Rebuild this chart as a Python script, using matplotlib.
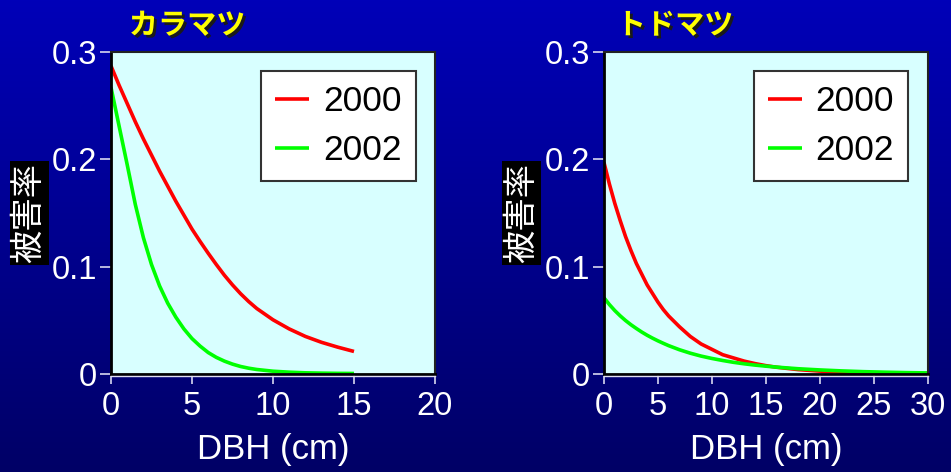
import numpy as np
import matplotlib
matplotlib.use('Agg')
import matplotlib.pyplot as plt
import matplotlib.patheffects as pe
import matplotlib.transforms as mtransforms
from matplotlib.lines import Line2D

plt.rcParams['font.family'] = ['Liberation Sans', 'Noto Sans CJK JP', 'DejaVu Sans']

# ---------------- data ----------------
species = ['カラマツ', 'トドマツ']
years = ['2000', '2002']
ylabel_text = '被害率'
xlabel_text = 'DBH (cm)'

kara_dbh = [0, 0.5, 1, 1.5, 2, 2.5, 3, 3.5, 4, 4.5, 5, 5.5, 6, 6.5, 7, 7.5, 8,
            8.5, 9, 10, 11, 12, 13, 14, 15]
kara_2000 = [0.287, 0.269, 0.252, 0.235, 0.219, 0.204, 0.189, 0.175, 0.161,
             0.148, 0.135, 0.1235, 0.1125, 0.102, 0.092, 0.083, 0.0748,
             0.0675, 0.061, 0.0505, 0.042, 0.035, 0.0295, 0.025, 0.021]
kara_2002 = [0.267, 0.231, 0.195, 0.158, 0.127, 0.102, 0.082, 0.066, 0.053,
             0.042, 0.033, 0.026, 0.020, 0.0155, 0.012, 0.0092, 0.0070,
             0.0054, 0.0042, 0.0026, 0.0017, 0.0011, 0.0008, 0.0006, 0.0005]

todo_dbh = [0, 0.5, 1, 1.5, 2, 2.5, 3, 3.5, 4, 4.5, 5, 5.5, 6, 7, 8, 9, 10,
            11, 12, 13, 14, 15, 16, 18, 20, 22, 24, 26, 28, 30]
todo_2000 = [0.197, 0.177, 0.159, 0.143, 0.128, 0.115, 0.103, 0.093, 0.083,
             0.075, 0.067, 0.060, 0.054, 0.044, 0.035, 0.028, 0.023, 0.018,
             0.015, 0.012, 0.0097, 0.0078, 0.0063, 0.0041, 0.0027, 0.0017,
             0.0011, 0.0007, 0.0004, 0.0003]
todo_2002 = [0.0710, 0.0647, 0.0591, 0.0542, 0.0498, 0.0459, 0.0424, 0.0391,
             0.0361, 0.0334, 0.0309, 0.0286, 0.0264, 0.0226, 0.0194, 0.0167,
             0.0145, 0.0126, 0.0109, 0.0095, 0.0083, 0.0073, 0.0064, 0.0049,
             0.0038, 0.0029, 0.0022, 0.0017, 0.0013, 0.0010]

kara_xticks = [0, 5, 10, 15, 20]
todo_xticks = [0, 5, 10, 15, 20, 25, 30]
yticks = [0, 0.1, 0.2, 0.3]
ytick_labels = ['0', '0.1', '0.2', '0.3']

line_colors = ['#FF0000', '#00FF00']

# ---------------- figure ----------------
W, H = 951, 472
fig = plt.figure(figsize=(W / 100, H / 100), dpi=100)
top_c = np.array([0x00, 0x00, 0xB8]) / 255
bot_c = np.array([0x00, 0x00, 0x66]) / 255
fig.patch.set_facecolor(bot_c)
t = np.linspace(0, 1, 256)[:, None, None]
grad = top_c[None, None, :] * (1 - t) + bot_c[None, None, :] * t
bg = fig.add_axes([0, 0, 1, 1], zorder=-10)
bg.imshow(grad, aspect='auto', extent=[0, 1, 0, 1], interpolation='bilinear')
bg.axis('off')

panels = [
    dict(rect=[111 / W, 1 - 374 / H, 324 / W, 322 / H], x=kara_dbh,
         ys=[kara_2000, kara_2002], xticks=kara_xticks, xlim=(0, 20),
         title=species[0], tx=187 / W, lx=29 / W),
    dict(rect=[604 / W, 1 - 374 / H, 323.5 / W, 322 / H], x=todo_dbh,
         ys=[todo_2000, todo_2002], xticks=todo_xticks, xlim=(0, 30),
         title=species[1], tx=675 / W, lx=521.5 / W),
]

for p in panels:
    ax = fig.add_axes(p['rect'])
    ax.set_facecolor('#D8FFFF')
    for yv, lab, col in zip(p['ys'], years, line_colors):
        ax.plot(p['x'], yv, color=col, lw=2.6, label=lab,
                solid_capstyle='butt', solid_joinstyle='round')
    ax.set_xlim(*p['xlim'])
    ax.set_ylim(0, 0.3)
    ax.set_xticks(p['xticks'])
    ax.set_xticklabels([str(v) for v in p['xticks']])
    ax.set_yticks(yticks)
    ax.set_yticklabels(ytick_labels)
    for s in ['left', 'bottom']:
        ax.spines[s].set_color('black')
        ax.spines[s].set_linewidth(2)
    for s in ['top', 'right']:
        ax.spines[s].set_color('#222222')
        ax.spines[s].set_linewidth(1.5)
    ax.tick_params(axis='both', direction='out', color='#D8D8F0',
                   labelcolor='white', labelsize=23.5, width=1.2)
    ax.tick_params(axis='y', length=8, pad=2)
    ax.tick_params(axis='x', length=7, pad=5)
    # thin light baseline under the x axis
    base_tr = mtransforms.offset_copy(ax.transAxes, fig=fig, x=0, y=-2, units='dots')
    fig.add_artist(Line2D([0, 1], [0, 0], transform=base_tr, color='#E0E0F0',
                          lw=1, clip_on=False))
    ax.set_xlabel(xlabel_text, color='white', fontsize=25, labelpad=8)
    leg = ax.legend(loc='upper right', bbox_to_anchor=(0.941, 0.941),
                    borderaxespad=0, fontsize=25.5, frameon=True, fancybox=False,
                    edgecolor='#333333', facecolor='white', framealpha=1,
                    handlelength=0.95, handletextpad=0.4, labelspacing=0.45,
                    borderpad=0.4)
    leg.get_frame().set_linewidth(1.5)
    for txt in leg.get_texts():
        txt.set_color('black')

    fig.text(p['tx'], 1 - 25 / H, p['title'], color='#FFFF00', fontsize=21,
             fontweight='bold', family=['Noto Sans CJK JP', 'DejaVu Sans'],
             ha='center', va='center',
             path_effects=[pe.withSimplePatchShadow(offset=(2, -2),
                                                    shadow_rgbFace='#1A1A1A',
                                                    alpha=1.0)])
    fig.text(p['lx'], 1 - 213 / H, ylabel_text, rotation=90, color='white',
             fontsize=24, family=['Noto Sans CJK JP', 'DejaVu Sans'],
             ha='center', va='center',
             bbox=dict(boxstyle='square,pad=0.06', fc='black', ec='none'))

fig.savefig('out.png', dpi=100, facecolor=fig.get_facecolor())
